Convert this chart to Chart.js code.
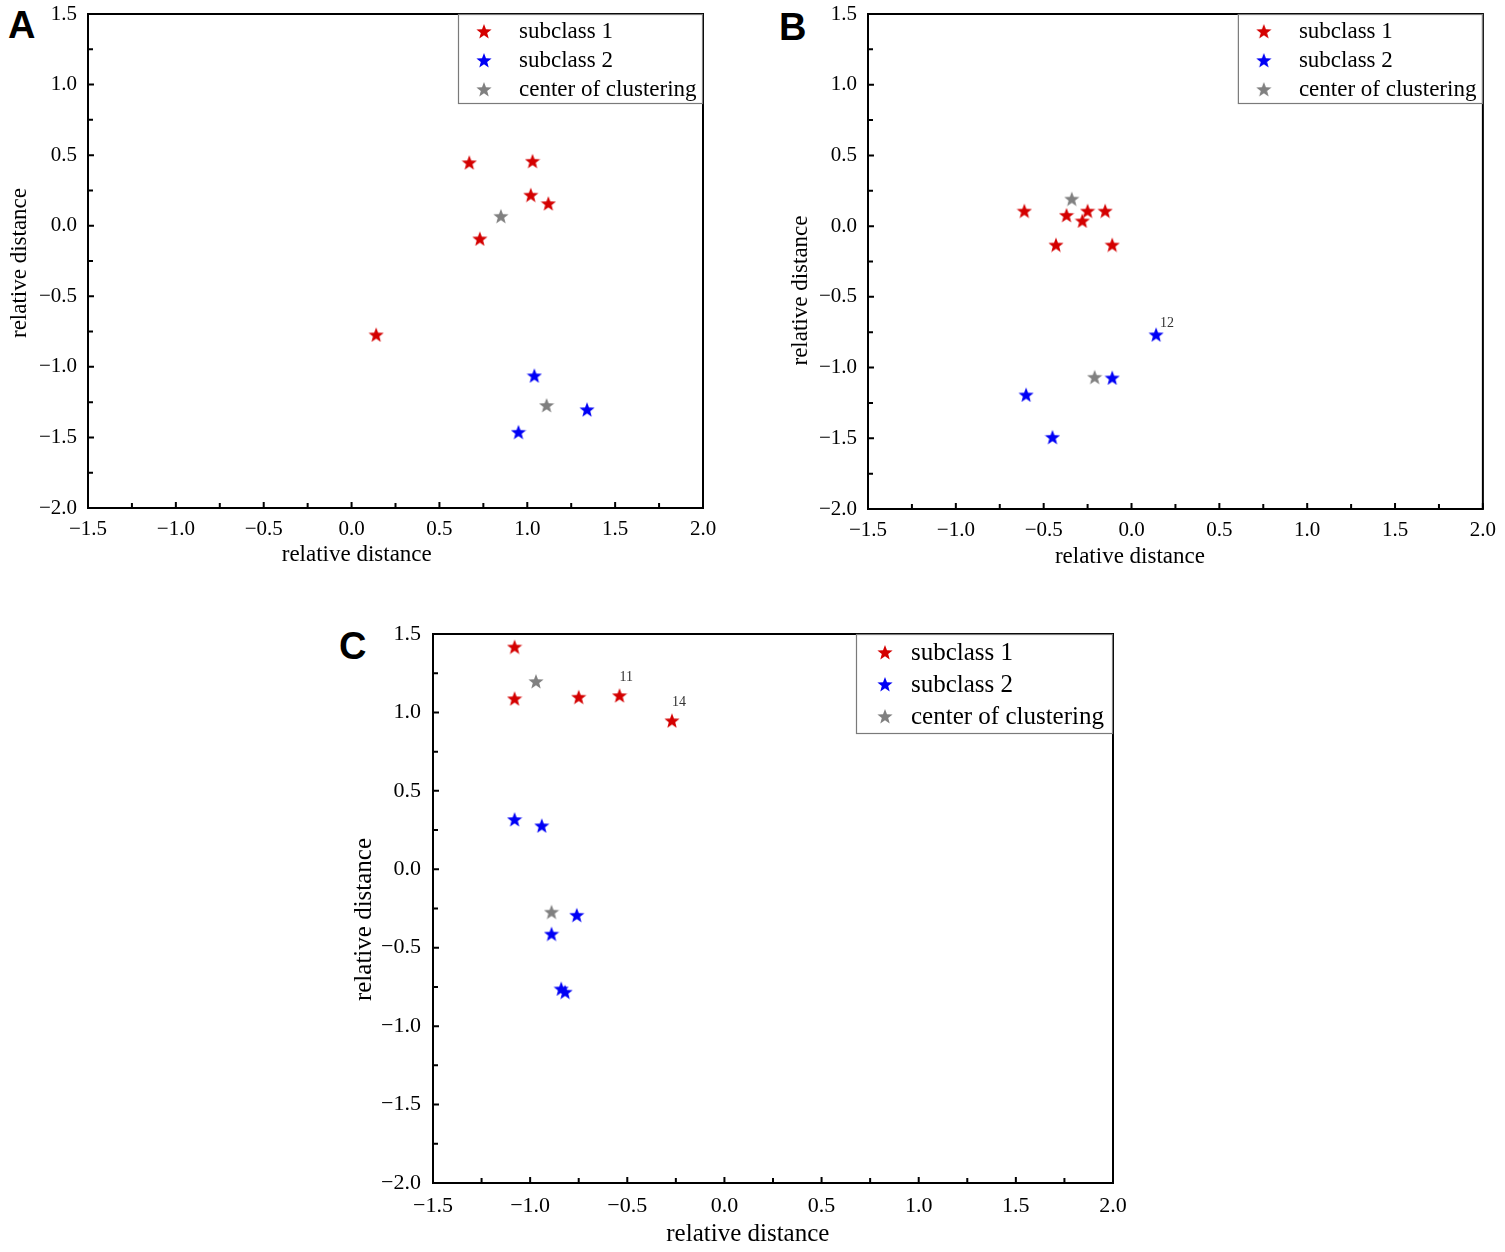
<!DOCTYPE html>
<html>
<head>
<meta charset="utf-8">
<script src="https://cdn.jsdelivr.net/npm/chart.js@4.4.0/dist/chart.umd.min.js"></script>
<style>
body { margin: 0; background: #fff; width: 1505px; height: 1252px; overflow: hidden; position: relative; }
canvas { position: absolute; }
.tag { position: absolute; font-family: "Liberation Sans", Arial, sans-serif; font-weight: bold; font-size: 38px; line-height: 38px; color: #000; }
</style>
</head>
<body>
<div class="tag" style="left:8px;top:6px">A</div>
<div class="tag" style="left:779px;top:8px">B</div>
<div class="tag" style="left:339px;top:627px">C</div>
<canvas id="chartA" style="left:0;top:-16px" width="740" height="596"></canvas>
<canvas id="chartB" style="left:780px;top:-16px" width="725" height="596"></canvas>
<canvas id="chartC" style="left:340px;top:600px" width="800" height="652"></canvas>
<script>
// 軸の目盛り
const xTickValues = [-1.5, -1.0, -0.5, 0.0, 0.5, 1.0, 1.5, 2.0];
const yTickValues = [-2.0, -1.5, -1.0, -0.5, 0.0, 0.5, 1.0, 1.5];
const seriesNames = ['subclass 1', 'subclass 2', 'center of clustering'];
const seriesColors = ['#d40000', '#0000f5', '#808080'];
const axisTitle = 'relative distance';

// A
const aSub1X = [0.67, 1.03, 1.02, 1.12, 0.73, 0.14];
const aSub1Y = [0.45, 0.46, 0.22, 0.16, -0.09, -0.77];
const aSub2X = [1.04, 1.34, 0.95];
const aSub2Y = [-1.06, -1.30, -1.46];
const aCenterX = [0.85, 1.11];
const aCenterY = [0.07, -1.27];

// B
const bSub1X = [-0.61, -0.37, -0.25, -0.28, -0.15, -0.43, -0.11];
const bSub1Y = [0.11, 0.08, 0.11, 0.04, 0.11, -0.13, -0.13];
const bSub2X = [0.14, -0.11, -0.60, -0.45];
const bSub2Y = [-0.765, -1.07, -1.19, -1.49];
const bSub2Labels = ['12', '', '', ''];
const bCenterX = [-0.34, -0.21];
const bCenterY = [0.195, -1.065];

// C
const cSub1X = [-1.08, -1.08, -0.75, -0.54, -0.27];
const cSub1Y = [1.42, 1.09, 1.10, 1.11, 0.95];
const cSub1Labels = ['', '', '', '11', '14'];
const cSub2X = [-1.08, -0.94, -0.76, -0.89, -0.84, -0.82];
const cSub2Y = [0.32, 0.28, -0.29, -0.41, -0.76, -0.78];
const cCenterX = [-0.97, -0.89];
const cCenterY = [1.20, -0.27];

const serif = '"Liberation Serif", "DejaVu Serif", serif';

// 星形マーカーを作る
function starImage(color, size) {
    const c = document.createElement('canvas');
    c.width = size;
    c.height = size;
    const g = c.getContext('2d');
    const cx = size / 2, cy = size / 2 + size * 0.06;
    const R = size / 2, r = R * 0.42;
    g.beginPath();
    for (let i = 0; i < 10; i++) {
        const a = -Math.PI / 2 + i * Math.PI / 5;
        const rr = i % 2 ? r : R;
        g.lineTo(cx + rr * Math.cos(a), cy + rr * Math.sin(a));
    }
    g.closePath();
    g.fillStyle = color;
    g.fill();
    return c;
}
const stars = seriesColors.map(c => starImage(c, 16));

function toPoints(xs, ys) {
    return xs.map((x, i) => ({ x: x, y: ys[i] }));
}

function fmt(v) {
    return (v < 0 ? '\u2212' : '') + Math.abs(v).toFixed(1);
}

// 枠・内向き目盛り・凡例・軸タイトル・点ラベル
const paperPlugin = {
    id: 'paper',
    afterDatasetsDraw(chart, args, o) {
        const ctx = chart.ctx;
        const a = chart.chartArea;
        const xs = chart.scales.x, ys = chart.scales.y;
        ctx.save();

        // 点ラベル
        ctx.fillStyle = '#333';
        ctx.font = o.labelSize + 'px ' + serif;
        ctx.textAlign = 'left';
        ctx.textBaseline = 'middle';
        chart.data.datasets.forEach((ds, di) => {
            if (!ds.pointLabels) return;
            const meta = chart.getDatasetMeta(di);
            ds.pointLabels.forEach((t, i) => {
                if (!t) return;
                const el = meta.data[i];
                ctx.fillText(t, el.x + o.labelDx, el.y + o.labelDy);
            });
        });

        // 枠
        ctx.strokeStyle = '#000';
        ctx.lineWidth = 2;
        ctx.strokeRect(a.left, a.top, a.right - a.left, a.bottom - a.top);

        // 目盛り（内向き）
        ctx.lineWidth = 2;
        ctx.beginPath();
        xTickValues.forEach((v, i) => {
            const px = xs.getPixelForValue(v);
            ctx.moveTo(px, a.bottom);
            ctx.lineTo(px, a.bottom - 6);
            if (i < xTickValues.length - 1) {
                const mx = xs.getPixelForValue((v + xTickValues[i + 1]) / 2);
                ctx.moveTo(mx, a.bottom);
                ctx.lineTo(mx, a.bottom - 5);
            }
        });
        yTickValues.forEach((v, i) => {
            const py = ys.getPixelForValue(v);
            ctx.moveTo(a.left, py);
            ctx.lineTo(a.left + 6, py);
            if (i < yTickValues.length - 1) {
                const my = ys.getPixelForValue((v + yTickValues[i + 1]) / 2);
                ctx.moveTo(a.left, my);
                ctx.lineTo(a.left + 5, my);
            }
        });
        ctx.stroke();

        // 凡例
        const lx = a.right - o.legendW, ly = a.top;
        ctx.fillStyle = '#fff';
        ctx.fillRect(lx, ly, o.legendW, o.legendH);
        ctx.strokeStyle = '#7a7a7a';
        ctx.lineWidth = 1.2;
        ctx.strokeRect(lx + 0.5, ly + 0.5, o.legendW - 1, o.legendH - 1);
        ctx.font = o.legendSize + 'px ' + serif;
        ctx.fillStyle = '#000';
        ctx.textAlign = 'left';
        ctx.textBaseline = 'middle';
        seriesNames.forEach((name, i) => {
            const ry = ly + o.rowY0 + i * o.rowGap;
            ctx.drawImage(stars[i], lx + o.starDx - 8, ry - 8);
            ctx.fillText(name, lx + o.textDx, ry + 1);
        });

        // 軸タイトル
        ctx.font = o.titleSize + 'px ' + serif;
        ctx.fillStyle = '#000';
        ctx.textAlign = 'center';
        ctx.textBaseline = 'middle';
        ctx.fillText(axisTitle, a.left + o.xTitleFrac * (a.right - a.left), a.bottom + o.xTitleDy);
        ctx.translate(a.left + o.yTitleDx, (a.top + a.bottom) / 2 + o.yTitleDy);
        ctx.rotate(-Math.PI / 2);
        ctx.fillText(axisTitle, 0, 0);
        ctx.restore();
    }
};

function makeChart(id, cfg, sets) {
    const datasets = sets.map((s, i) => ({
        label: seriesNames[i],
        data: s.points,
        pointLabels: s.labels,
        pointStyle: stars[i],
        pointRadius: 8,
        backgroundColor: seriesColors[i],
        borderColor: seriesColors[i],
        order: i === 2 ? 0 : 1
    }));
    return new Chart(document.getElementById(id), {
        type: 'scatter',
        data: { datasets: datasets },
        options: {
            responsive: false,
            animation: false,
            layout: { padding: { left: 0, right: cfg.padRight, top: cfg.padTop, bottom: 0 } },
            plugins: { legend: { display: false }, tooltip: { enabled: false }, paper: cfg },
            scales: {
                x: {
                    type: 'linear', min: -1.5, max: 2.0,
                    afterBuildTicks: s => { s.ticks = xTickValues.map(v => ({ value: v })); },
                    afterFit: s => { s.height = cfg.xAxisH; },
                    grid: { display: false, drawTicks: false },
                    border: { display: false },
                    ticks: { padding: cfg.xPad, color: '#000', font: { family: serif, size: cfg.tickSize }, callback: fmt, autoSkip: false, maxRotation: 0 }
                },
                y: {
                    type: 'linear', min: -2.0, max: 1.5,
                    afterBuildTicks: s => { s.ticks = yTickValues.map(v => ({ value: v })); },
                    afterFit: s => { s.width = cfg.yAxisW; },
                    grid: { display: false, drawTicks: false },
                    border: { display: false },
                    ticks: { padding: cfg.yPad, color: '#000', font: { family: serif, size: cfg.tickSize }, callback: fmt, autoSkip: false }
                }
            }
        },
        plugins: [paperPlugin]
    });
}

const baseAB = {
    tickSize: 21, titleSize: 23, legendSize: 23, labelSize: 14,
    legendW: 245, legendH: 90, rowY0: 17, rowGap: 29, starDx: 26, textDx: 61,
    xPad: 9, yPad: 11, labelDx: 4, labelDy: -11
};

makeChart('chartA', Object.assign({}, baseAB, {
    padRight: 37, padTop: 30, xAxisH: 72, yAxisW: 88,
    xTitleFrac: 0.437, xTitleDy: 47, yTitleDx: -68, yTitleDy: 2
}), [
    { points: toPoints(aSub1X, aSub1Y) },
    { points: toPoints(aSub2X, aSub2Y) },
    { points: toPoints(aCenterX, aCenterY) }
]);

makeChart('chartB', Object.assign({}, baseAB, {
    padRight: 19, padTop: 30, xAxisH: 71, yAxisW: 88,
    xTitleFrac: 0.426, xTitleDy: 48, yTitleDx: -67, yTitleDy: 29
}), [
    { points: toPoints(bSub1X, bSub1Y) },
    { points: toPoints(bSub2X, bSub2Y), labels: bSub2Labels },
    { points: toPoints(bCenterX, bCenterY) }
]);

makeChart('chartC', {
    tickSize: 22, titleSize: 25, legendSize: 25, labelSize: 14,
    legendW: 257, legendH: 100, rowY0: 18, rowGap: 32, starDx: 29, textDx: 55,
    xPad: 10, yPad: 12, labelDx: 0, labelDy: -18,
    padRight: 27, padTop: 34, xAxisH: 69, yAxisW: 93,
    xTitleFrac: 0.463, xTitleDy: 51, yTitleDx: -69, yTitleDy: 11
}, [
    { points: toPoints(cSub1X, cSub1Y), labels: cSub1Labels },
    { points: toPoints(cSub2X, cSub2Y) },
    { points: toPoints(cCenterX, cCenterY) }
]);
</script>
</body>
</html>
